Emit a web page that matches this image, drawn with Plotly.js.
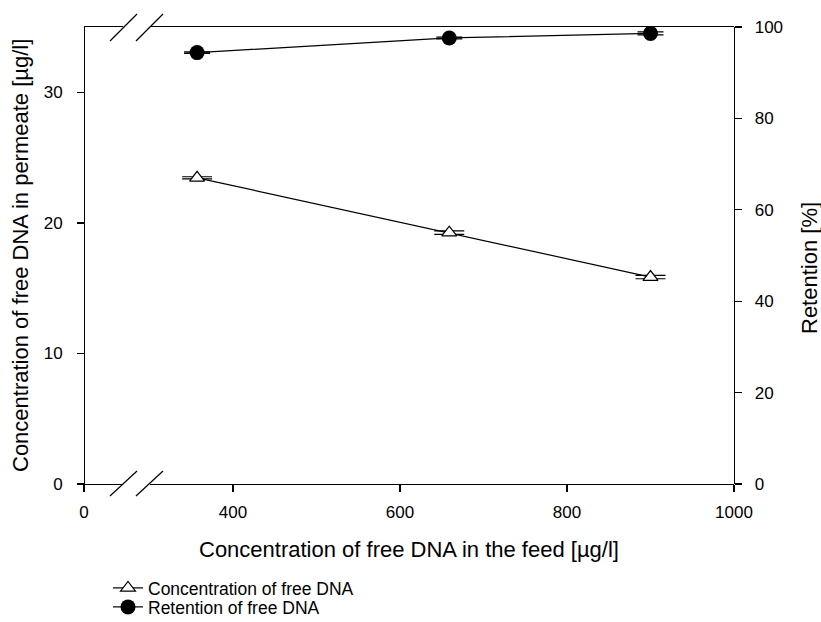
<!DOCTYPE html>
<html>
<head>
<meta charset="utf-8">
<script src="https://cdn.plot.ly/plotly-3.0.1.min.js"></script>
<style>html,body{margin:0;padding:0;background:#fff;}#chart{width:821px;height:622px;}</style>
</head>
<body>
<div id="chart"></div>
<script>
// Data
const feedConc = [357, 659, 900];                 // µg/l, x values
const permeateConc = [23.45, 19.25, 15.85];       // µg/l, left axis
const permeateErr = [0.08, 0.13, 0.13];
const retention = [94.4, 97.6, 98.6];             // %, right axis
const retentionErr = [0.15, 0.2, 0.33];
const xTicksMain = [400, 600, 800, 1000];
const xTicksLow = [0];
const yTicksLeft = [0, 10, 20, 30];
const yTicksRight = [0, 20, 40, 60, 80, 100];
const seriesNames = ["Concentration of free DNA", "Retention of free DNA"];

const FONT = "Liberation Sans, Arial, sans-serif";
const L = 84, R = 734, T = 27, B = 484, W = 821, H = 622;
const pw = R - L, ph = B - T;
const px = v => (v - L) / pw;
const py = v => (B - v) / ph;

const traces = [
  {
    x: feedConc, y: permeateConc, name: seriesNames[0], legend: 'legend',
    xaxis: 'x', yaxis: 'y', mode: 'lines+markers', type: 'scatter',
    line: {color: '#000', width: 1.2},
    marker: {symbol: 'triangle-up', size: 13, color: '#fff', line: {color: '#000', width: 1.2}},
    error_y: {type: 'data', array: permeateErr, visible: true, color: '#000', thickness: 1.2, width: 15}
  },
  {
    x: feedConc, y: retention, name: seriesNames[1], legend: 'legend2',
    xaxis: 'x', yaxis: 'y2', mode: 'lines+markers', type: 'scatter',
    line: {color: '#000', width: 1.2},
    marker: {symbol: 'circle', size: 15, color: '#000'},
    error_y: {type: 'data', array: retentionErr, visible: true, color: '#000', thickness: 1.2, width: 13}
  },
  {
    x: [], y: [], xaxis: 'x2', yaxis: 'y', showlegend: false, type: 'scatter', mode: 'markers', hoverinfo: 'skip'
  }
];

const axBase = {
  showgrid: false, zeroline: false, showline: true, linecolor: '#000', linewidth: 1.3,
  ticks: 'outside', ticklen: 7, tickwidth: 1.3, tickcolor: '#000',
  tickfont: {family: FONT, size: 17, color: '#000'}
};

const slash = (x0, y0, x1, y1) => ({type: 'line', xref: 'paper', yref: 'paper',
  x0: px(x0), y0: py(y0), x1: px(x1), y1: py(y1), line: {color: '#000', width: 1.2}});

const legendBase = {xanchor: 'left', yanchor: 'middle', orientation: 'v',
  font: {family: FONT, size: 17.5, color: '#000'}, bgcolor: 'rgba(0,0,0,0)', borderwidth: 0};

const layout = {
  width: W, height: H,
  margin: {l: L, r: W - R, t: T, b: H - B, autoexpand: false},
  paper_bgcolor: '#fff', plot_bgcolor: '#fff',
  font: {family: FONT, color: '#000'},
  showlegend: true,
  legend: Object.assign({}, legendBase, {x: px(108), y: py(588)}),
  legend2: Object.assign({}, legendBase, {x: px(108), y: py(607)}),
  xaxis: Object.assign({}, axBase, {domain: [px(149.5), 1], range: [300, 1000], anchor: 'y',
    tickmode: 'array', tickvals: xTicksMain, ticktext: xTicksMain.map(String), mirror: true, ticklabelstandoff: 5}),
  xaxis2: Object.assign({}, axBase, {domain: [0, px(123)], range: [0, (123 - L) / (501 / 600)], anchor: 'y',
    tickmode: 'array', tickvals: xTicksLow, ticktext: xTicksLow.map(String), mirror: true, ticklabelstandoff: 5}),
  yaxis: Object.assign({}, axBase, {range: [0, 35], anchor: 'free', position: 0,
    tickmode: 'array', tickvals: yTicksLeft, ticktext: yTicksLeft.map(String), ticklabelstandoff: 11}),
  yaxis2: Object.assign({}, axBase, {range: [0, 100], overlaying: 'y', side: 'right', anchor: 'free', position: 1,
    tickmode: 'array', tickvals: yTicksRight, ticktext: yTicksRight.map(String), ticklabelstandoff: 9}),
  annotations: [
    {text: 'Concentration of free DNA in the feed [µg/l]', xref: 'paper', yref: 'paper',
     x: px(409), y: py(549), xanchor: 'center', yanchor: 'middle', showarrow: false,
     font: {family: FONT, size: 22, color: '#000'}},
    {text: 'Concentration of free DNA in permeate [µg/l]', xref: 'paper', yref: 'paper',
     x: px(20), y: py(256), xanchor: 'center', yanchor: 'middle', textangle: -90, showarrow: false,
     font: {family: FONT, size: 22, color: '#000'}},
    {text: 'Retention [%]', xref: 'paper', yref: 'paper',
     x: px(809), y: py(268), xanchor: 'center', yanchor: 'middle', textangle: -90, showarrow: false,
     font: {family: FONT, size: 22, color: '#000'}}
  ],
  shapes: [
    slash(110, 496, 137, 471), slash(136, 496, 163, 471),
    slash(110, 41, 137, 14), slash(136, 41, 163, 14)
  ]
};

Plotly.newPlot('chart', traces, layout, {displayModeBar: false, staticPlot: true});
</script>
</body>
</html>
